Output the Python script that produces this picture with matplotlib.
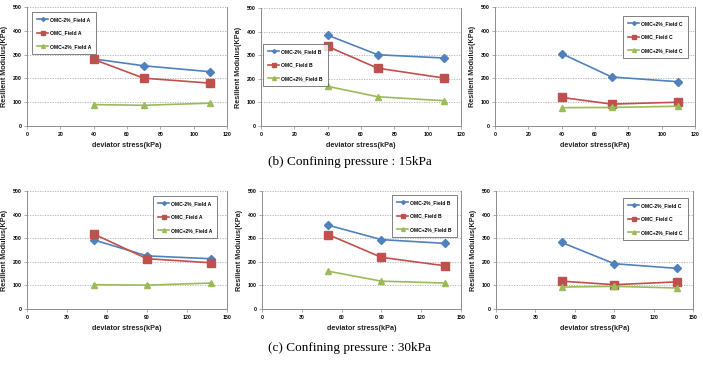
import matplotlib.pyplot as plt
import numpy as np

# deviator stress (kPa) for each confining pressure
x_15 = [40, 70, 110]
x_30 = [50, 90, 138]

# resilient modulus (kPa), confining pressure 15kPa
a15_dry = [282, 253, 228]
a15_omc = [280, 201, 180]
a15_wet = [90, 87, 96]
b15_dry = [385, 302, 288]
b15_omc = [337, 245, 203]
b15_wet = [168, 124, 107]
c15_dry = [304, 206, 186]
c15_omc = [120, 92, 100]
c15_wet = [77, 78, 83]

# resilient modulus (kPa), confining pressure 30kPa
a30_dry = [293, 225, 213]
a30_omc = [318, 213, 196]
a30_wet = [103, 101, 110]
b30_dry = [355, 294, 278]
b30_omc = [315, 219, 183]
b30_wet = [160, 118, 110]
c30_dry = [282, 192, 172]
c30_omc = [118, 103, 115]
c30_wet = [93, 96, 89]

x_ticks_15 = [0, 20, 40, 60, 80, 100, 120]
x_ticks_30 = [0, 30, 60, 90, 120, 150]
y_ticks = [0, 100, 200, 300, 400, 500]

captions = ["(b) Confining pressure : 15kPa", "(c) Confining pressure : 30kPa"]

BLUE = "#4F81BD"
RED = "#C0504D"
GREEN = "#9BBB59"
AXC = "#8c8c8c"

W, H = 703, 365
fig = plt.figure(figsize=(W / 100, H / 100), dpi=100)
plt.rcParams["font.family"] = ["Liberation Sans", "DejaVu Sans"]


def px_axes(x0, x1, ytop, ybot):
    return fig.add_axes([x0 / W, 1 - ybot / H, (x1 - x0) / W, (ybot - ytop) / H])


def panel(rect, xs, dry, omc, wet, labels, xticks, leg_px):
    ax = px_axes(*rect)
    ax.plot(xs, dry, color=BLUE, marker="D", ms=3.6, lw=1.2, label=labels[0])
    ax.plot(xs, omc, color=RED, marker="s", ms=6, lw=1.2, label=labels[1])
    ax.plot(xs, wet, color=GREEN, marker="^", ms=5, lw=1.2, label=labels[2])
    ax.set_xlim(xticks[0], xticks[-1])
    ax.set_ylim(0, 500)
    ax.set_xticks(xticks)
    ax.set_yticks(y_ticks)
    ax.tick_params(labelsize=3.7, length=2, width=0.5, color=AXC, pad=2)
    for lab in ax.get_xticklabels() + ax.get_yticklabels():
        lab.set_fontweight("bold")
    ax.yaxis.grid(True, linestyle=(0, (1.5, 1.5)), color="#b0b0b0", lw=0.6)
    ax.set_axisbelow(True)
    for s in ["left", "bottom", "right"]:
        ax.spines[s].set_color(AXC)
        ax.spines[s].set_linewidth(0.7)
    ax.spines["top"].set_visible(False)
    ax.set_xlabel("deviator stress(kPa)", fontsize=5.2, fontweight="bold", color="#222222", labelpad=4)
    ax.set_ylabel("Resilient Modulus(KPa)", fontsize=5.2, fontweight="bold", color="#222222", labelpad=3)
    x0, y0 = leg_px
    b = rect
    anchor = ((x0 - b[0]) / (b[1] - b[0]), (b[3] - y0) / (b[3] - b[2]))
    leg = ax.legend(loc="upper left", bbox_to_anchor=anchor, fontsize=3.6, frameon=True,
                    fancybox=False, edgecolor="#606060", handlelength=2.2, labelspacing=1.7,
                    borderpad=1.0, handletextpad=0.4, markerscale=0.55, borderaxespad=0)
    leg.get_frame().set_linewidth(0.7)
    for t in leg.get_texts():
        t.set_fontweight("bold")
    return ax


panel((27, 227, 7, 126), x_15, a15_dry, a15_omc, a15_wet,
      ["OMC-2%_Field A", "OMC_Field A", "OMC+2%_Field A"], x_ticks_15, (32, 12))
panel((261, 461, 8, 126), x_15, b15_dry, b15_omc, b15_wet,
      ["OMC-2%_Field B", "OMC_Field B", "OMC+2%_Field B"], x_ticks_15, (263, 44))
panel((495, 695, 7, 126), x_15, c15_dry, c15_omc, c15_wet,
      ["OMC+2%_Field C", "OMC_Field C", "OMC+2%_Field C"], x_ticks_15, (623, 16))

panel((27, 227, 191, 309), x_30, a30_dry, a30_omc, a30_wet,
      ["OMC-2%_Field A", "OMC_Field A", "OMC+2%_Field A"], x_ticks_30, (153, 196))
panel((262, 461, 191, 309), x_30, b30_dry, b30_omc, b30_wet,
      ["OMC-2%_Field B", "OMC_Field B", "OMC+2%_Field B"], x_ticks_30, (392, 195))
panel((496, 693, 191, 309), x_30, c30_dry, c30_omc, c30_wet,
      ["OMC-2%_Field C", "OMC_Field C", "OMC+2%_Field C"], x_ticks_30, (623, 198))

fig.text(350 / W, 1 - 162 / H, captions[0], ha="center", va="center",
         fontsize=9.5, family="Liberation Serif")
fig.text(350 / W, 1 - 348 / H, captions[1], ha="center", va="center",
         fontsize=9.5, family="Liberation Serif")

fig.savefig("out.png", dpi=100)
